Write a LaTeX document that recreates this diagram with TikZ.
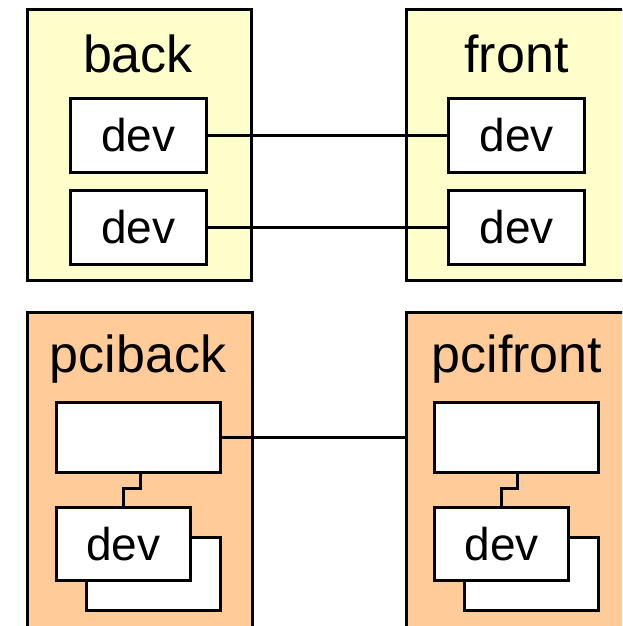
\documentclass[tikz,border=0pt]{standalone}
\usepackage{fontspec}
\setmainfont{Liberation Sans}
\definecolor{drvyellow}{HTML}{FFFFCC}
\definecolor{pciorange}{HTML}{FFCC99}
\begin{document}
\begin{tikzpicture}[x=1pt, y=-1pt,
    panel/.style={draw, line width=3pt, anchor=north west, inner sep=0pt},
    devbox/.style={draw, fill=white, line width=3pt, minimum width=136pt,
      minimum height=74pt, inner sep=0pt, font=\fontsize{46}{50}\selectfont},
    busbox/.style={draw, fill=white, line width=3pt, minimum width=164pt,
      minimum height=70pt, inner sep=0pt},
    title/.style={anchor=base, font=\fontsize{52}{58}\selectfont},
    link/.style={line width=3pt}]
  \useasboundingbox (0,0) rectangle (622,626);
  \clip (0,0) rectangle (622,626);
  % panels
  \node[panel, fill=drvyellow, minimum width=224pt, minimum height=270pt] (back) at (25.5,8.5) {};
  \node[panel, fill=drvyellow, minimum width=240pt, minimum height=270pt] (front) at (404.5,8.5) {};
  \node[panel, fill=pciorange, minimum width=225pt, minimum height=340pt] (pciback) at (25.5,310.5) {};
  \node[panel, fill=pciorange, minimum width=240pt, minimum height=340pt] (pcifront) at (404.5,310.5) {};
  \node[title] (backlbl) at (138,72) {back};
  \node[title] (frontlbl) at (516.5,72) {front};
  \node[title] (pcibacklbl) at (138,372) {pciback};
  \node[title] (pcifrontlbl) at (517,372) {pcifront};
  % devices
  \node[devbox] (bdev1) at (138.5,135) {dev};
  \node[devbox] (bdev2) at (138.5,227) {dev};
  \node[devbox] (fdev1) at (516.5,135) {dev};
  \node[devbox] (fdev2) at (516.5,227) {dev};
  \node[busbox] (pbbus) at (138.5,437.5) {};
  \node[devbox, minimum width=134pt, minimum height=73pt] (pbshadow) at (153.5,574) {};
  \node[devbox, minimum width=134pt, minimum height=73pt] (pbdev) at (123.5,544) {dev};
  \node[busbox] (pfbus) at (516.5,437.5) {};
  \node[devbox, minimum width=134pt, minimum height=73pt] (pfshadow) at (531.5,574) {};
  \node[devbox, minimum width=134pt, minimum height=73pt] (pfdev) at (501.5,544) {dev};
  % lines
  \draw[link] (bdev1.east) -- (fdev1.west);
  \draw[link] (bdev2.east) -- (fdev2.west);
  \draw[link] (pbbus.east) -- (pbbus.east -| pcifront.west);
  \draw[link] ([xshift=1.5pt]pbbus.south) -- ++(0,14) -| (pbdev.north);
  \draw[link] ([xshift=0.5pt]pfbus.south) -- ++(0,14) -| (pfdev.north);
\end{tikzpicture}
\end{document}
